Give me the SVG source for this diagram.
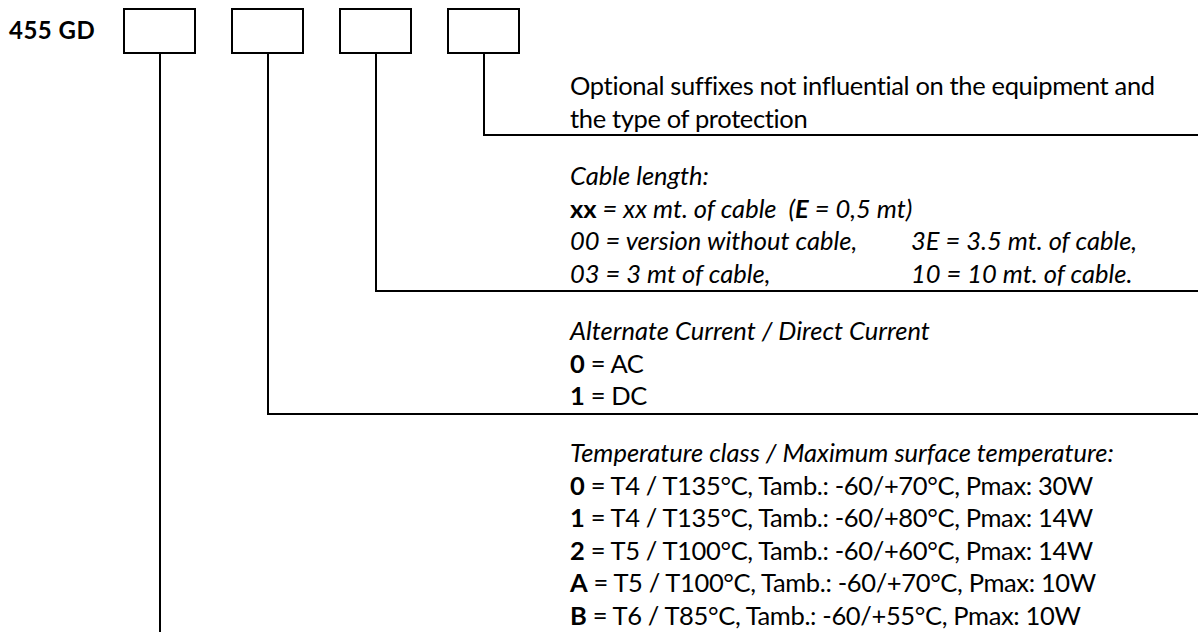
<svg xmlns="http://www.w3.org/2000/svg" width="1198" height="632" viewBox="0 0 1198 632">
<style>
text{font-family:Lato,"Open Sans","Liberation Sans",sans-serif;font-size:25.5px;fill:#000;white-space:pre}
.up{letter-spacing:-0.35px}
.it{font-style:italic}
.b{font-weight:bold}
.ttl{font-size:24px;font-weight:bold;letter-spacing:0.5px}
.box{fill:#fff;stroke:#000;stroke-width:2}
.ln{fill:none;stroke:#000;stroke-width:2}
</style>
<rect width="1198" height="632" fill="#fff"/>
<g id="title"><text x="9" y="39" class="ttl">455 GD</text></g>
<g id="connectors">
<path class="ln" d="M160,53 V632"/>
<path class="ln" d="M268,53 V414 H1198"/>
<path class="ln" d="M376,53 V291 H1198"/>
<path class="ln" d="M484,53 V135 H1198"/>
</g>
<g id="box1"><rect class="box" x="124" y="9" width="71" height="44"/></g>
<g id="box2"><rect class="box" x="232" y="9" width="71" height="44"/></g>
<g id="box3"><rect class="box" x="340" y="9" width="71" height="44"/></g>
<g id="box4"><rect class="box" x="448" y="9" width="71" height="44"/></g>
<g id="suffix">
<text x="570" y="95" class="up">Optional suffixes not influential on the equipment and</text>
<text x="570" y="127.6" class="up">the type of protection</text>
</g>
<g id="cable">
<text x="570" y="185" class="it">Cable length:</text>
<text x="570" y="217.6"><tspan class="b">xx</tspan><tspan class="it"> = xx mt. of cable  (</tspan><tspan class="it b">E</tspan><tspan class="it"> = 0,5 mt)</tspan></text>
<text x="570" y="250.2" class="it">00 = version without cable,</text>
<text x="911" y="250.2" class="it">3E = 3.5 mt. of cable,</text>
<text x="570" y="282.8" class="it">03 = 3 mt of cable,</text>
<text x="911" y="282.8" class="it">10 = 10 mt. of cable.</text>
</g>
<g id="current">
<text x="570" y="340" class="it">Alternate Current / Direct Current</text>
<text x="570" y="372.6" class="up"><tspan class="b">0</tspan> = AC</text>
<text x="570" y="405.2" class="up"><tspan class="b">1</tspan> = DC</text>
</g>
<g id="temperature">
<text x="570" y="462" class="it">Temperature class / Maximum surface temperature:</text>
<text x="570" y="494.6" class="up"><tspan class="b">0</tspan> = T4 / T135°C, Tamb.: -60/+70°C, Pmax: 30W</text>
<text x="570" y="527.2" class="up"><tspan class="b">1</tspan> = T4 / T135°C, Tamb.: -60/+80°C, Pmax: 14W</text>
<text x="570" y="559.8" class="up"><tspan class="b">2</tspan> = T5 / T100°C, Tamb.: -60/+60°C, Pmax: 14W</text>
<text x="570" y="592.4" class="up"><tspan class="b">A</tspan> = T5 / T100°C, Tamb.: -60/+70°C, Pmax: 10W</text>
<text x="570" y="625" class="up"><tspan class="b">B</tspan> = T6 / T85°C, Tamb.: -60/+55°C, Pmax: 10W</text>
</g>
</svg>
